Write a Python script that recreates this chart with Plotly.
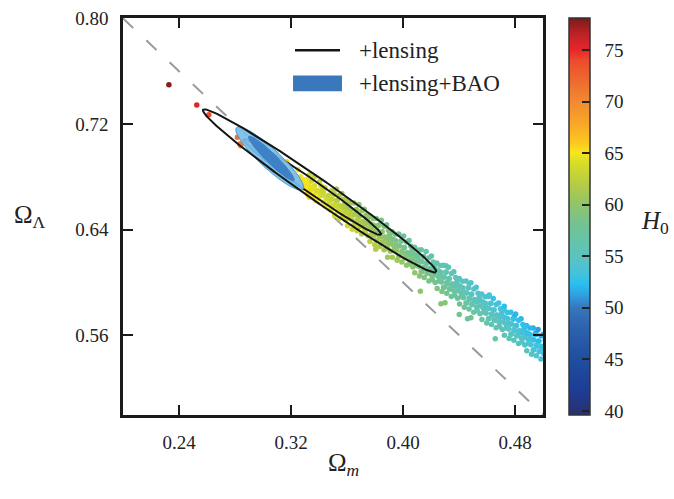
import numpy as np
import plotly.graph_objects as go

# ---------------- data ----------------
# scatter samples: Omega_m, Omega_Lambda, H0
om = [
 0.2328, 0.2527, 0.2613, 0.2817, 0.2834, 0.2841, 0.2860, 0.2890, 0.2920, 0.2950, 0.2975,
 0.3010, 0.2992, 0.3003, 0.3028, 0.3046, 0.3054, 0.3090, 0.3072, 0.3083, 0.3108, 0.3126, 0.3134,
 0.3170, 0.3152, 0.3163, 0.3188, 0.3206, 0.3214, 0.3250, 0.3232, 0.3243, 0.3268, 0.3286, 0.3294,
 0.3330, 0.3308, 0.3324, 0.3314, 0.3335, 0.3318,
 0.3346, 0.3367, 0.3357, 0.3372, 0.3352, 0.3365,
 0.3403, 0.3416, 0.3389, 0.3406, 0.3385, 0.3409,
 0.3433, 0.3442, 0.3453, 0.3430, 0.3444, 0.3424,
 0.3490, 0.3468, 0.3484, 0.3474, 0.3495, 0.3478,
 0.3506, 0.3527, 0.3517, 0.3532, 0.3512, 0.3525,
 0.3563, 0.3576, 0.3549, 0.3566, 0.3545, 0.3569,
 0.3593, 0.3602, 0.3613, 0.3590, 0.3604, 0.3584,
 0.3650, 0.3628, 0.3644, 0.3634, 0.3655, 0.3638,
 0.3666, 0.3687, 0.3677, 0.3692, 0.3672, 0.3685,
 0.3723, 0.3736, 0.3709, 0.3726, 0.3705, 0.3729,
 0.3753, 0.3762, 0.3773, 0.3750, 0.3764, 0.3744,
 0.3810, 0.3788, 0.3804, 0.3794, 0.3815, 0.3798,
 0.3826, 0.3847, 0.3837, 0.3852, 0.3832, 0.3845,
 0.3883, 0.3896, 0.3869, 0.3886, 0.3865, 0.3889,
 0.3913, 0.3922, 0.3933, 0.3910, 0.3924, 0.3904,
 0.3970, 0.3948, 0.3964, 0.3954, 0.3975, 0.3958,
 0.3986, 0.4007, 0.3997, 0.4012, 0.3992, 0.4005,
 0.4043, 0.4056, 0.4029, 0.4046, 0.4025, 0.4049,
 0.4073, 0.4082, 0.4093, 0.4070, 0.4084, 0.4064,
 0.4130, 0.4108, 0.4124, 0.4114, 0.4135, 0.4118,
 0.4146, 0.4167, 0.4157, 0.4172, 0.4152, 0.4165,
 0.4203, 0.4216, 0.4189, 0.4206, 0.4185, 0.4209,
 0.4233, 0.4242, 0.4253, 0.4230, 0.4244, 0.4224,
 0.4290, 0.4268, 0.4284, 0.4274, 0.4295, 0.4278,
 0.4306, 0.4327, 0.4317, 0.4332, 0.4312, 0.4325,
 0.4363, 0.4376, 0.4349, 0.4366, 0.4345, 0.4369,
 0.4393, 0.4402, 0.4413, 0.4390, 0.4404, 0.4384,
 0.4450, 0.4428, 0.4444, 0.4434, 0.4455, 0.4438,
 0.4466, 0.4487, 0.4477, 0.4492, 0.4472, 0.4485,
 0.4523, 0.4536, 0.4509, 0.4526, 0.4505, 0.4529,
 0.4553, 0.4562, 0.4573, 0.4550, 0.4564, 0.4544,
 0.4610, 0.4588, 0.4604, 0.4594, 0.4615, 0.4598,
 0.4626, 0.4647, 0.4637, 0.4652, 0.4632, 0.4645,
 0.4683, 0.4696, 0.4669, 0.4686, 0.4665, 0.4689,
 0.4713, 0.4722, 0.4733, 0.4710, 0.4724, 0.4704,
 0.4770, 0.4748, 0.4764, 0.4754, 0.4775, 0.4758,
 0.4786, 0.4807, 0.4797, 0.4812, 0.4792, 0.4805,
 0.4843, 0.4856, 0.4829, 0.4846, 0.4825, 0.4849,
 0.4873, 0.4882, 0.4893, 0.4870, 0.4884, 0.4864,
 0.4930, 0.4908, 0.4924, 0.4914, 0.4935, 0.4918,
 0.4946, 0.4967, 0.4957, 0.4972, 0.4952, 0.4965,
 0.5003, 0.5016, 0.4989, 0.5006, 0.4985, 0.5009,
 0.4124, 0.4271, 0.4300, 0.4402, 0.4461, 0.4485, 0.4659, 0.4616, 0.4723,
 0.4473, 0.4307, 0.4794, 0.4949, 0.3805, 0.3890, 0.3330, 0.3380,
 0.3320, 0.3345, 0.3385, 0.3425, 0.3465, 0.3300, 0.3280,
 0.3508, 0.3495, 0.3512, 0.3490, 0.3531, 0.3551, 0.3537, 0.3546,
 0.3588, 0.3575, 0.3592, 0.3570, 0.3611, 0.3631, 0.3617, 0.3626,
 0.3668, 0.3655, 0.3672, 0.3650, 0.3691, 0.3711, 0.3697, 0.3706,
 0.3748, 0.3735, 0.3752, 0.3730, 0.3771, 0.3791, 0.3777, 0.3786,
 0.3828, 0.3815, 0.3832, 0.3810, 0.3851, 0.3871, 0.3857, 0.3866,
 0.3908, 0.3895, 0.3912, 0.3890, 0.3931, 0.3951, 0.3937, 0.3946,
 0.3988, 0.3975, 0.3992, 0.3970, 0.4011, 0.4031, 0.4017, 0.4026,
 0.4068, 0.4055, 0.4072, 0.4050, 0.4091, 0.4111, 0.4097, 0.4106,
 0.4148, 0.4135, 0.4152, 0.4130, 0.4171, 0.4191, 0.4177, 0.4186,
 0.4228, 0.4215, 0.4232, 0.4210, 0.4251, 0.4271, 0.4257, 0.4266,
 0.4308, 0.4295, 0.4312, 0.4290, 0.4331, 0.4351, 0.4337, 0.4346,
 0.4388, 0.4375, 0.4392, 0.4370, 0.4411, 0.4431, 0.4417, 0.4426,
 0.4468, 0.4455, 0.4472, 0.4450, 0.4491, 0.4511, 0.4497, 0.4506,
 0.4548, 0.4535, 0.4552, 0.4530, 0.4571, 0.4591, 0.4577, 0.4586,
 0.4628, 0.4615, 0.4632, 0.4610, 0.4651, 0.4671, 0.4657, 0.4666,
 0.4708, 0.4695, 0.4712, 0.4690, 0.4731, 0.4751, 0.4737, 0.4746,
 0.4788, 0.4775, 0.4792, 0.4770, 0.4811, 0.4831, 0.4817, 0.4826,
 0.4868, 0.4855, 0.4872, 0.4850, 0.4891, 0.4911, 0.4897, 0.4906,
 0.4948, 0.4935, 0.4952, 0.4930, 0.4971, 0.4991, 0.4977, 0.4986,
]
ol = [
 0.7498, 0.7343, 0.7269, 0.7099, 0.7049, 0.7036, 0.7070, 0.7060, 0.7030, 0.7005, 0.6990,
 0.7032, 0.6982, 0.6932, 0.6977, 0.6924, 0.6890, 0.6973, 0.6923, 0.6873, 0.6918, 0.6865, 0.6831,
 0.6914, 0.6864, 0.6814, 0.6859, 0.6806, 0.6772, 0.6854, 0.6804, 0.6754, 0.6800, 0.6747, 0.6713,
 0.6813, 0.6777, 0.6749, 0.6721, 0.6693, 0.6669,
 0.6768, 0.6732, 0.6704, 0.6676, 0.6652, 0.6796,
 0.6762, 0.6730, 0.6694, 0.6654, 0.6626, 0.6682,
 0.6680, 0.6716, 0.6640, 0.6608, 0.6576, 0.6696,
 0.6695, 0.6659, 0.6631, 0.6603, 0.6575, 0.6551,
 0.6669, 0.6619, 0.6580, 0.6542, 0.6509, 0.6707,
 0.6673, 0.6629, 0.6579, 0.6524, 0.6485, 0.6562,
 0.6571, 0.6621, 0.6516, 0.6472, 0.6428, 0.6593,
 0.6602, 0.6552, 0.6514, 0.6475, 0.6436, 0.6403,
 0.6551, 0.6501, 0.6462, 0.6424, 0.6391, 0.6589,
 0.6554, 0.6510, 0.6460, 0.6405, 0.6366, 0.6443,
 0.6453, 0.6503, 0.6398, 0.6354, 0.6310, 0.6475,
 0.6484, 0.6434, 0.6396, 0.6357, 0.6318, 0.6285,
 0.6432, 0.6382, 0.6343, 0.6305, 0.6272, 0.6470,
 0.6436, 0.6392, 0.6342, 0.6287, 0.6248, 0.6325,
 0.6334, 0.6384, 0.6279, 0.6235, 0.6191, 0.6356,
 0.6366, 0.6316, 0.6278, 0.6239, 0.6200, 0.6167,
 0.6314, 0.6264, 0.6225, 0.6187, 0.6154, 0.6352,
 0.6317, 0.6273, 0.6223, 0.6168, 0.6129, 0.6206,
 0.6216, 0.6266, 0.6161, 0.6117, 0.6073, 0.6238,
 0.6247, 0.6197, 0.6159, 0.6120, 0.6081, 0.6048,
 0.6196, 0.6146, 0.6107, 0.6069, 0.6036, 0.6234,
 0.6199, 0.6155, 0.6105, 0.6050, 0.6011, 0.6088,
 0.6097, 0.6147, 0.6042, 0.5998, 0.5954, 0.6119,
 0.6129, 0.6079, 0.6041, 0.6002, 0.5963, 0.5930,
 0.6077, 0.6027, 0.5988, 0.5950, 0.5917, 0.6115,
 0.6081, 0.6037, 0.5987, 0.5932, 0.5893, 0.5970,
 0.5979, 0.6029, 0.5924, 0.5880, 0.5836, 0.6001,
 0.6010, 0.5960, 0.5922, 0.5883, 0.5844, 0.5811,
 0.5959, 0.5909, 0.5870, 0.5832, 0.5799, 0.5997,
 0.5962, 0.5918, 0.5868, 0.5813, 0.5774, 0.5851,
 0.5861, 0.5911, 0.5806, 0.5762, 0.5718, 0.5883,
 0.5892, 0.5842, 0.5804, 0.5765, 0.5726, 0.5693,
 0.5840, 0.5790, 0.5751, 0.5713, 0.5680, 0.5878,
 0.5844, 0.5800, 0.5750, 0.5695, 0.5656, 0.5733,
 0.5742, 0.5792, 0.5687, 0.5643, 0.5599, 0.5764,
 0.5774, 0.5724, 0.5686, 0.5647, 0.5608, 0.5575,
 0.5722, 0.5672, 0.5633, 0.5595, 0.5562, 0.5760,
 0.5725, 0.5681, 0.5631, 0.5576, 0.5537, 0.5614,
 0.5624, 0.5674, 0.5569, 0.5525, 0.5481, 0.5646,
 0.5655, 0.5605, 0.5567, 0.5528, 0.5489, 0.5456,
 0.5604, 0.5554, 0.5515, 0.5477, 0.5444, 0.5642,
 0.5607, 0.5563, 0.5513, 0.5458, 0.5419, 0.5496,
 0.5932, 0.5838, 0.5845, 0.5757, 0.5725, 0.5732, 0.5572, 0.5905, 0.5819,
 0.5991, 0.6126, 0.5740, 0.5617, 0.6250, 0.6190, 0.6645, 0.6620,
 0.6740, 0.6720, 0.6695, 0.6660, 0.6630, 0.6770, 0.6780,
 0.6670, 0.6630, 0.6590, 0.6554, 0.6620, 0.6580, 0.6542, 0.6660,
 0.6611, 0.6571, 0.6531, 0.6495, 0.6561, 0.6521, 0.6483, 0.6601,
 0.6552, 0.6512, 0.6472, 0.6436, 0.6502, 0.6462, 0.6424, 0.6542,
 0.6492, 0.6452, 0.6412, 0.6376, 0.6443, 0.6403, 0.6365, 0.6483,
 0.6433, 0.6393, 0.6353, 0.6317, 0.6384, 0.6344, 0.6306, 0.6424,
 0.6374, 0.6334, 0.6294, 0.6258, 0.6324, 0.6284, 0.6246, 0.6364,
 0.6315, 0.6275, 0.6235, 0.6199, 0.6265, 0.6225, 0.6187, 0.6305,
 0.6256, 0.6216, 0.6176, 0.6140, 0.6206, 0.6166, 0.6128, 0.6246,
 0.6196, 0.6156, 0.6116, 0.6080, 0.6147, 0.6107, 0.6069, 0.6187,
 0.6137, 0.6097, 0.6057, 0.6021, 0.6088, 0.6048, 0.6010, 0.6128,
 0.6078, 0.6038, 0.5998, 0.5962, 0.6028, 0.5988, 0.5950, 0.6068,
 0.6019, 0.5979, 0.5939, 0.5903, 0.5969, 0.5929, 0.5891, 0.6009,
 0.5960, 0.5920, 0.5880, 0.5844, 0.5910, 0.5870, 0.5832, 0.5950,
 0.5900, 0.5860, 0.5820, 0.5784, 0.5851, 0.5811, 0.5773, 0.5891,
 0.5841, 0.5801, 0.5761, 0.5725, 0.5792, 0.5752, 0.5714, 0.5832,
 0.5782, 0.5742, 0.5702, 0.5666, 0.5732, 0.5692, 0.5654, 0.5772,
 0.5723, 0.5683, 0.5643, 0.5607, 0.5673, 0.5633, 0.5595, 0.5713,
 0.5664, 0.5624, 0.5584, 0.5548, 0.5614, 0.5574, 0.5536, 0.5654,
 0.5604, 0.5564, 0.5524, 0.5488, 0.5555, 0.5515, 0.5477, 0.5595,
]
h0 = [
 77.8, 75.3, 73.8, 71.5, 71.0, 70.8, 70.5, 70.0, 69.5, 69.0, 68.6,
 67.3, 68.1, 68.9, 67.2, 68.0, 68.5, 66.4, 67.2, 68.0, 66.3, 67.1, 67.6,
 65.5, 66.3, 67.1, 65.5, 66.3, 66.8, 64.7, 65.5, 66.3, 64.7, 65.5, 66.0,
 63.7, 64.2, 64.6, 65.1, 65.5, 65.8,
 63.5, 64.1, 64.5, 64.9, 65.3, 63.1,
 62.8, 63.2, 63.8, 64.4, 64.8, 64.0,
 63.2, 62.7, 63.8, 64.3, 64.8, 63.0,
 62.2, 62.7, 63.1, 63.6, 64.0, 64.3,
 61.7, 62.5, 63.1, 63.6, 64.1, 61.1,
 60.9, 61.6, 62.3, 63.2, 63.7, 62.6,
 61.6, 60.9, 62.4, 63.1, 63.8, 61.3,
 60.4, 61.1, 61.7, 62.3, 62.9, 63.4,
 60.4, 61.2, 61.8, 62.3, 62.8, 59.8,
 59.5, 60.2, 60.9, 61.8, 62.3, 61.2,
 60.3, 59.6, 61.1, 61.8, 62.5, 60.0,
 59.1, 59.8, 60.4, 61.0, 61.6, 62.1,
 59.1, 59.9, 60.5, 61.0, 61.5, 58.5,
 58.3, 59.0, 59.7, 60.6, 61.1, 60.0,
 59.0, 58.3, 59.8, 60.5, 61.2, 58.7,
 57.8, 58.5, 59.1, 59.7, 60.3, 60.8,
 57.8, 58.6, 59.2, 59.7, 60.2, 57.2,
 57.1, 57.8, 58.5, 59.4, 59.9, 58.8,
 57.9, 57.2, 58.7, 59.4, 60.1, 57.6,
 56.7, 57.4, 58.0, 58.6, 59.2, 59.7,
 56.7, 57.5, 58.1, 58.6, 59.1, 56.1,
 55.9, 56.6, 57.3, 58.2, 58.7, 57.6,
 56.8, 56.1, 57.6, 58.3, 59.0, 56.5,
 55.6, 56.3, 56.9, 57.5, 58.1, 58.6,
 55.6, 56.4, 57.0, 57.5, 58.0, 55.0,
 54.9, 55.6, 56.3, 57.2, 57.7, 56.6,
 55.7, 55.0, 56.5, 57.2, 57.9, 55.4,
 54.6, 55.3, 55.9, 56.5, 57.1, 57.6,
 54.6, 55.4, 56.0, 56.5, 57.0, 54.0,
 53.9, 54.6, 55.3, 56.2, 56.7, 55.6,
 54.7, 54.0, 55.5, 56.2, 56.9, 54.4,
 53.6, 54.3, 54.9, 55.5, 56.1, 56.6,
 53.6, 54.4, 55.0, 55.5, 56.0, 53.0,
 52.9, 53.6, 54.3, 55.2, 55.7, 54.6,
 53.8, 53.1, 54.6, 55.3, 56.0, 53.5,
 52.6, 53.3, 53.9, 54.5, 55.1, 55.6,
 52.7, 53.5, 54.1, 54.6, 55.1, 52.1,
 52.0, 52.7, 53.4, 54.3, 54.8, 53.7,
 52.9, 52.2, 53.7, 54.4, 55.1, 52.6,
 51.8, 52.5, 53.1, 53.7, 54.3, 54.8,
 51.8, 52.6, 53.2, 53.7, 54.2, 51.2,
 51.1, 51.8, 52.5, 53.4, 53.9, 52.8,
 59.8, 59.5, 59.3, 58.5, 58.0, 57.8, 56.5, 53.5, 52.5,
 55.0, 55.5, 51.8, 51.0, 61.8, 61.0, 65.5, 65.0,
 64.8, 64.4, 63.9, 63.6, 63.2, 65.0, 65.3,
 62.1, 62.7, 63.3, 63.9, 62.1, 62.7, 63.3, 61.5,
 61.4, 62.0, 62.6, 63.2, 61.4, 62.0, 62.6, 60.8,
 60.7, 61.3, 61.9, 62.5, 60.7, 61.3, 61.9, 60.1,
 60.1, 60.7, 61.3, 61.9, 60.0, 60.6, 61.2, 59.4,
 59.4, 60.0, 60.6, 61.2, 59.4, 60.0, 60.6, 58.8,
 58.8, 59.4, 60.0, 60.6, 58.8, 59.4, 60.0, 58.2,
 58.2, 58.8, 59.4, 60.0, 58.2, 58.8, 59.4, 57.6,
 57.6, 58.2, 58.8, 59.4, 57.6, 58.2, 58.8, 57.0,
 57.0, 57.6, 58.2, 58.8, 57.1, 57.7, 58.3, 56.5,
 56.5, 57.1, 57.7, 58.3, 56.5, 57.1, 57.7, 55.9,
 56.0, 56.6, 57.2, 57.8, 56.0, 56.6, 57.2, 55.4,
 55.4, 56.0, 56.6, 57.2, 55.5, 56.1, 56.7, 54.9,
 54.9, 55.5, 56.1, 56.7, 55.0, 55.6, 56.2, 54.4,
 54.4, 55.0, 55.6, 56.2, 54.5, 55.1, 55.7, 53.9,
 54.0, 54.6, 55.2, 55.8, 54.0, 54.6, 55.2, 53.4,
 53.5, 54.1, 54.7, 55.3, 53.6, 54.2, 54.8, 53.0,
 53.0, 53.6, 54.2, 54.8, 53.1, 53.7, 54.3, 52.5,
 52.6, 53.2, 53.8, 54.4, 52.7, 53.3, 53.9, 52.1,
 52.1, 52.7, 53.3, 53.9, 52.2, 52.8, 53.4, 51.6,
]

# confidence ellipses: centre, major half-axis, minor half-axis (data units)
lens_outer_c, lens_outer_a, lens_outer_b = (0.3404, 0.6693), (0.0832, -0.0615), (0.00455, 0.00661)
lens_inner_c, lens_inner_a, lens_inner_b = (0.3353, 0.6722), (0.0491, -0.0362), (0.00277, 0.00403)
bao_outer_c, bao_outer_a, bao_outer_b = (0.30478, 0.69387), (0.02373, -0.02341), (0.00492, 0.00535)
bao_inner_c, bao_inner_a, bao_inner_b = (0.30599, 0.69387), (0.01620, -0.01680), (0.00262, 0.00272)

# flat-universe line
flat_om = [0.20, 0.50]
flat_ol = [0.80, 0.50]

x_ticks = [0.24, 0.32, 0.40, 0.48]
x_ticktext = ["0.24", "0.32", "0.40", "0.48"]
y_ticks = [0.56, 0.64, 0.72, 0.80]
y_ticktext = ["0.56", "0.64", "0.72", "0.80"]
cb_ticks = [40, 45, 50, 55, 60, 65, 70, 75]
legend_labels = ["+lensing", "+lensing+BAO"]

# ---------------- styles ----------------
FONT = "Liberation Serif"
TXT = "#222222"
colorscale = [
    [0.000, "#2a2f6e"], [0.062, "#1d3d94"], [0.140, "#1f4ea0"], [0.218, "#2c62ad"],
    [0.270, "#3676bc"], [0.305, "#2ea4e2"], [0.330, "#28c0ee"], [0.357, "#45c2dc"],
    [0.390, "#58c3c4"], [0.426, "#62c4b0"], [0.478, "#72c394"], [0.530, "#90c46a"],
    [0.582, "#b6cc44"], [0.634, "#d8dc28"], [0.660, "#f6e61e"], [0.686, "#fcc820"],
    [0.738, "#f8a428"], [0.790, "#f28a30"], [0.842, "#ee6a30"], [0.894, "#ec4a2c"],
    [0.919, "#e8262a"], [0.958, "#c02228"], [1.000, "#7a1a1a"],
]


def ellipse(c, a, b, n=240):
    t = np.linspace(0, 2 * np.pi, n)
    return (c[0] + a[0] * np.cos(t) + b[0] * np.sin(t),
            c[1] + a[1] * np.cos(t) + b[1] * np.sin(t))


fig = go.Figure()

fig.add_trace(go.Scatter(x=flat_om, y=flat_ol, mode="lines",
                         line=dict(color="#9a9a9a", width=2, dash="14px,18px"),
                         showlegend=False, hoverinfo="skip"))

fig.add_trace(go.Scatter(
    x=om, y=ol, mode="markers", showlegend=False,
    marker=dict(size=5.5, color=h0, colorscale=colorscale, cmin=39.6, cmax=78.1,
                line=dict(width=0),
                colorbar=dict(thickness=21, len=1, lenmode="fraction", x=1.062, xanchor="left",
                              xpad=0, y=0.5, yanchor="middle", ypad=0,
                              outlinewidth=1.5, outlinecolor="#333333",
                              ticks="inside", ticklen=8, tickwidth=1.5, tickcolor="#222222",
                              tickvals=cb_ticks,
                              ticktext=["\u00a0\u00a0" + str(v) for v in cb_ticks],
                              tickfont=dict(family=FONT, size=19, color=TXT)))))

ex, ey = ellipse(lens_inner_c, lens_inner_a, lens_inner_b)
fig.add_trace(go.Scatter(x=ex, y=ey, mode="lines", line=dict(color="#151515", width=2),
                         showlegend=False, hoverinfo="skip"))

ex, ey = ellipse(bao_outer_c, bao_outer_a, bao_outer_b)
fig.add_trace(go.Scatter(x=ex, y=ey, mode="lines", fill="toself",
                         fillcolor="rgba(122,192,235,0.93)",
                         line=dict(color="rgba(70,150,215,0.95)", width=1),
                         showlegend=False, hoverinfo="skip"))

ex, ey = ellipse(bao_inner_c, bao_inner_a, bao_inner_b)
fig.add_trace(go.Scatter(x=ex, y=ey, mode="lines", fill="toself",
                         fillcolor="rgba(58,124,196,0.92)",
                         line=dict(color="rgba(58,124,196,0.9)", width=0.8),
                         showlegend=False, hoverinfo="skip"))

ex, ey = ellipse(lens_outer_c, lens_outer_a, lens_outer_b)
fig.add_trace(go.Scatter(x=ex, y=ey, mode="lines", line=dict(color="#151515", width=2),
                         showlegend=False, hoverinfo="skip"))

axis_common = dict(showgrid=False, zeroline=False, showline=True, linecolor="#1a1a1a",
                   linewidth=2.5, mirror="ticks", ticks="inside", ticklen=10, tickwidth=1.5,
                   tickcolor="#1a1a1a", tickfont=dict(family=FONT, size=19, color=TXT),
                   ticklabelstandoff=8)

fig.update_layout(
    width=674, height=499,
    margin=dict(l=123, r=131, t=8, b=84),
    paper_bgcolor="white", plot_bgcolor="white",
    font=dict(family=FONT, color=TXT),
    xaxis=dict(range=[0.2, 0.5], tickvals=x_ticks, ticktext=x_ticktext, **axis_common),
    yaxis=dict(range=[0.4995, 0.8003], tickvals=y_ticks, ticktext=y_ticktext, **axis_common),
    shapes=[
        dict(type="line", xref="paper", yref="paper", x0=0.4095, x1=0.5167, y0=0.919, y1=0.919,
             line=dict(color="#151515", width=2.5)),
        dict(type="rect", xref="paper", yref="paper", x0=0.4048, x1=0.5214, y0=0.8157, y1=0.855,
             fillcolor="#3a78bd", line=dict(width=0)),
    ],
    annotations=[
        dict(text=legend_labels[0], xref="paper", yref="paper", x=0.557, y=0.919,
             xanchor="left", yanchor="middle", showarrow=False,
             font=dict(family=FONT, size=23, color=TXT)),
        dict(text=legend_labels[1], xref="paper", yref="paper", x=0.557, y=0.835,
             xanchor="left", yanchor="middle", showarrow=False,
             font=dict(family=FONT, size=23, color=TXT)),
        dict(text="Ω<sub><i>m</i></sub>", xref="paper", yref="paper", x=0.524, y=-0.125,
             xanchor="center", yanchor="middle", showarrow=False,
             font=dict(family=FONT, size=25, color=TXT)),
        dict(text="Ω<sub>Λ</sub>", xref="paper", yref="paper", x=-0.221, y=0.50,
             xanchor="center", yanchor="middle", showarrow=False,
             font=dict(family=FONT, size=25, color=TXT)),
        dict(text="<i>H</i><sub>0</sub>", xref="paper", yref="paper", x=1.267, y=0.484,
             xanchor="center", yanchor="middle", showarrow=False,
             font=dict(family=FONT, size=25, color=TXT)),
    ],
)

fig.write_html("out.html")
